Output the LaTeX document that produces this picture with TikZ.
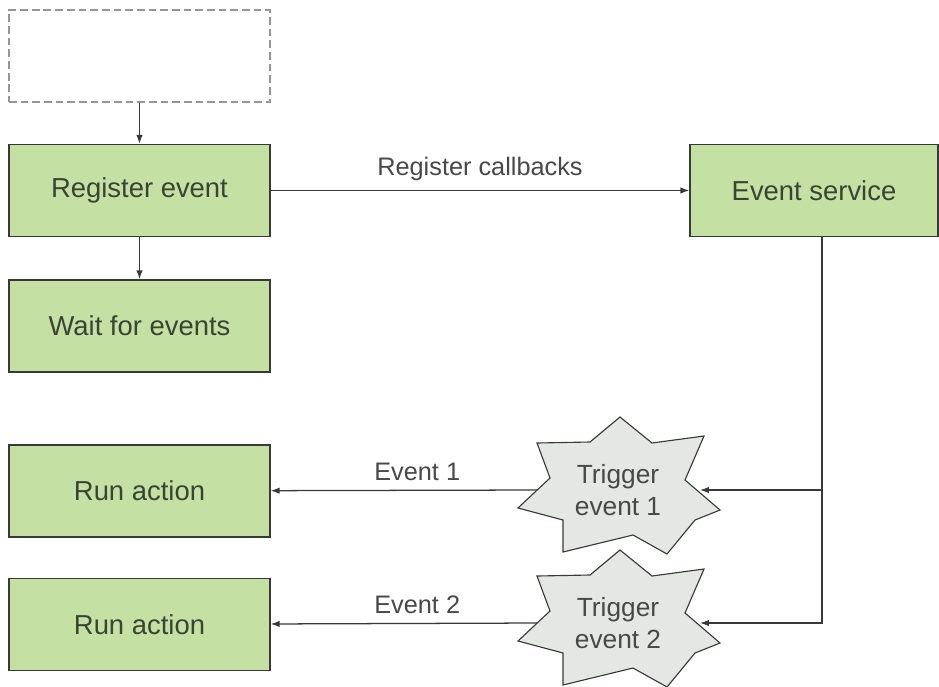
\documentclass[tikz,border=0pt]{standalone}
\usepackage{fontspec}
\setmainfont{Liberation Sans}
\usepackage{xcolor}
\usepackage{tikz}
\usetikzlibrary{arrows.meta, positioning, calc}
\definecolor{boxgreen}{RGB}{197, 224, 163}
\definecolor{edgegray}{RGB}{55, 58, 55}
\definecolor{textdark}{RGB}{58, 68, 52}
\definecolor{labelgray}{RGB}{72, 72, 72}
\definecolor{burstgray}{RGB}{229, 231, 229}
\definecolor{dashgray}{RGB}{150, 150, 150}

% seven-pointed burst round a centre, with entry points left and right
\newcommand{\triggerburst}[3]{%
  \coordinate (#1) at #2;
  \draw[burst] ($(#1)+(2,-73)$) -- ($(#1)+(34,-47)$) -- ($(#1)+(86,-54)$) -- ($(#1)+(67,-10)$)
    -- ($(#1)+(102,20)$) -- ($(#1)+(77,30)$) -- ($(#1)+(49,64)$) -- ($(#1)+(15,45)$)
    -- ($(#1)+(-55,62)$) -- ($(#1)+(-55,30)$) -- ($(#1)+(-100,18)$) -- ($(#1)+(-68,-12)$)
    -- ($(#1)+(-81,-47)$) -- ($(#1)+(-28,-48)$) -- cycle;
  \node[lbl, font=\fontsize{18.7}{22.5}\selectfont] (#1-txt) at (#1) {#3};
  \coordinate (#1-r) at ($(#1)+(82,0)$);
  \coordinate (#1-l) at ($(#1)+(-81,0)$);
}

\begin{document}
\begin{tikzpicture}[
    x=0.025cm, y=-0.025cm,
    node distance=1.05cm,
    every node/.style={font=\fontsize{18}{22}\selectfont, align=center},
    stage/.style={draw=edgegray, fill=boxgreen, text=textdark, font=\fontsize{19.5}{23}\selectfont, minimum width=6.525cm, minimum height=2.3cm, line width=1pt, inner sep=0pt},
    ghost/.style={draw=dashgray, dash pattern=on 5.5pt off 2.8pt, minimum width=6.525cm, minimum height=2.3cm, line width=1pt},
    burst/.style={draw=edgegray, fill=burstgray, line width=0.8pt, line join=miter},
    lbl/.style={text=labelgray},
    arr/.style={-{Latex[length=2.2mm, width=1.6mm]}, line width=0.9pt, color=edgegray}
]
\useasboundingbox (0,0) rectangle (939,686);

% Left column
\node[ghost] (blank) at (139.5,56) {};
\node[stage] (reg) at (139.5,190.5) {Register event};
\node[stage, below=of reg] (wait) {Wait for events};
\node[stage] (run1) at (139.5,491) {Run action};
\node[stage, below=1.0cm of run1] (run2) {Run action};

% Right side
\node[stage, minimum width=6.2cm] (svc) at (814,190.5) {Event service};
\coordinate (drop) at ($(svc.south)+(8,0)$);

% Connectors
\draw[arr] (blank) -- (reg);
\draw[arr] (reg) -- (wait);
\draw[arr] (reg) -- node[above=3pt, lbl]{Register callbacks} (svc);

% Triggers
\triggerburst{trig1}{(618,490)}{Trigger\\event 1}
\triggerburst{trig2}{(618,623)}{Trigger\\event 2}

\draw[arr] (drop) |- (trig2-r);
\draw[arr] (drop |- trig1-r) -- (trig1-r);
\draw[arr] (trig1-l) -- node[pos=0.45, above=3pt, lbl]{Event 1} (run1);
\draw[arr] (trig2-l) -- node[pos=0.45, above=3pt, lbl]{Event 2} (run2);

\end{tikzpicture}
\end{document}
